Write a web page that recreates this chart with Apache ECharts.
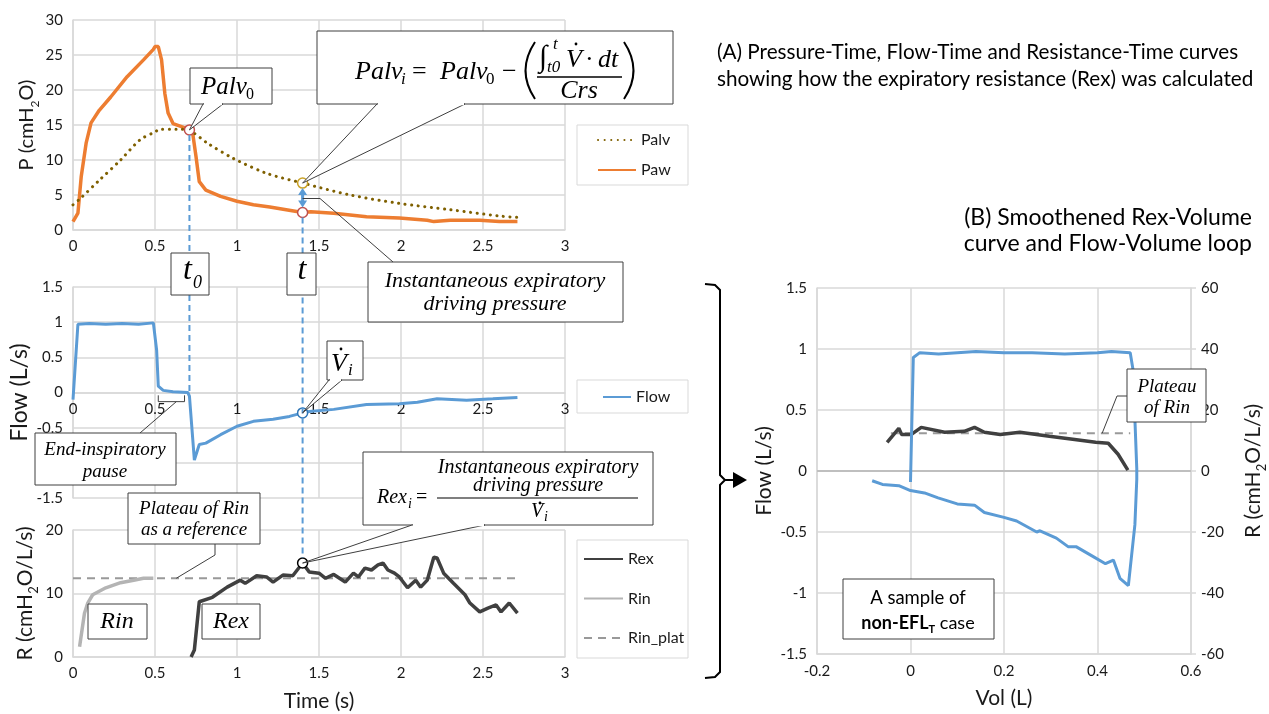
<!DOCTYPE html>
<html>
<head>
<meta charset="utf-8">
<script src="https://cdn.jsdelivr.net/npm/echarts@6/dist/echarts.min.js"></script>
<style>
  html, body { margin: 0; padding: 0; background: #fff; }
  #chart { width: 1269px; height: 714px; }
</style>
</head>
<body>
<div id="chart"></div>
<script>
// ---- data ----
// (A) pressure-time
const pawTime = [0, 0.03, 0.05, 0.08, 0.11, 0.16, 0.23, 0.33, 0.43, 0.49, 0.5, 0.52, 0.54, 0.56, 0.58, 0.61, 0.67, 0.71, 0.73, 0.75, 0.77, 0.81, 0.9, 1.0, 1.1, 1.2, 1.3, 1.4, 1.45, 1.59, 1.79, 1.99, 2.16, 2.2, 2.3, 2.48, 2.6, 2.71]
const pawValues = [1.2, 2.4, 7.6, 12.4, 15.3, 17.1, 19.0, 21.9, 24.3, 25.8, 26.2, 26.2, 24.3, 19.5, 16.7, 15.2, 14.7, 14.3, 13.8, 10.5, 6.9, 5.7, 4.8, 4.1, 3.6, 3.3, 2.9, 2.5, 2.6, 2.4, 1.9, 1.7, 1.4, 1.2, 1.4, 1.4, 1.2, 1.2]
const palvTime = [0, 0.04, 0.16, 0.29, 0.41, 0.5, 0.53, 0.63, 0.71, 0.82, 0.98, 1.18, 1.4, 1.69, 1.99, 2.3, 2.6, 2.71]
const palvValues = [3.6, 4.4, 7.1, 10.0, 12.9, 14.0, 14.4, 14.4, 14.2, 12.4, 10.2, 8.1, 6.7, 5.0, 3.8, 2.9, 2.0, 1.8]

// flow-time
const flowTime = [0, 0.03, 0.1, 0.2, 0.3, 0.4, 0.49, 0.51, 0.52, 0.55, 0.61, 0.7, 0.71, 0.74, 0.77, 0.81, 0.9, 1.0, 1.1, 1.22, 1.32, 1.4, 1.44, 1.59, 1.79, 1.99, 2.1, 2.22, 2.4, 2.56, 2.71]
const flowValues = [-0.1, 0.97, 0.98, 0.97, 0.98, 0.97, 0.99, 0.6, 0.09, 0.03, 0.01, 0.0, -0.05, -0.96, -0.74, -0.72, -0.6, -0.48, -0.41, -0.38, -0.34, -0.29, -0.27, -0.24, -0.17, -0.16, -0.14, -0.09, -0.11, -0.09, -0.07]

// resistance-time
const rinTime = [0.04, 0.07, 0.09, 0.12, 0.2, 0.29, 0.37, 0.43, 0.49]
const rinValues = [1.6, 6.9, 8.5, 9.8, 10.9, 11.7, 12.1, 12.4, 12.4]
const rexTime = [0.72, 0.74, 0.77, 0.85, 0.94, 1.02, 1.05, 1.12, 1.18, 1.22, 1.28, 1.34, 1.4, 1.44, 1.5, 1.54, 1.59, 1.66, 1.71, 1.74, 1.78, 1.82, 1.86, 1.89, 1.92, 1.96, 1.99, 2.04, 2.09, 2.12, 2.16, 2.2, 2.22, 2.26, 2.32, 2.39, 2.42, 2.48, 2.53, 2.58, 2.61, 2.66, 2.71]
const rexValues = [0, 1.1, 8.7, 9.4, 11.0, 12.1, 11.6, 12.8, 12.6, 11.8, 12.9, 12.8, 14.8, 13.4, 13.2, 12.4, 13.0, 11.8, 13.2, 12.6, 14.0, 13.7, 14.5, 14.8, 13.7, 13.2, 12.6, 10.9, 12.1, 11.0, 12.1, 15.7, 15.6, 13.2, 11.6, 9.8, 8.5, 7.1, 7.7, 8.2, 7.1, 8.5, 6.9]
const rinPlatTime = [0, 2.71]
const rinPlatValue = 12.4

// (B) flow-volume loop and Rex-volume
const loopVol = [0, 0.006, 0.02, 0.06, 0.1, 0.14, 0.2, 0.26, 0.33, 0.4, 0.43, 0.47, 0.476, 0.484, 0.484, 0.48, 0.466, 0.448, 0.434, 0.417, 0.39, 0.354, 0.337, 0.312, 0.277, 0.27, 0.227, 0.2, 0.158, 0.137, 0.1, 0.059, 0.03, 0, -0.025, -0.06, -0.082]
const loopFlow = [-0.09, 0.93, 0.97, 0.96, 0.97, 0.98, 0.97, 0.97, 0.96, 0.97, 0.98, 0.97, 0.83, 0.02, -0.07, -0.44, -0.94, -0.88, -0.73, -0.76, -0.7, -0.62, -0.62, -0.55, -0.49, -0.5, -0.41, -0.38, -0.34, -0.28, -0.27, -0.22, -0.18, -0.16, -0.12, -0.11, -0.08]
const rexVol = [-0.05, -0.025, -0.019, 0.002, 0.023, 0.073, 0.115, 0.137, 0.158, 0.192, 0.234, 0.297, 0.347, 0.396, 0.423, 0.444, 0.465]
const rexVolValues = [9.4, 14.0, 12.0, 12.0, 14.3, 12.7, 13.0, 14.3, 12.7, 12.0, 12.7, 11.4, 10.4, 9.4, 9.1, 5.5, 0.3]
const rinPlatVol = [-0.042, 0.47]

// highlighted points
const palv0Point = [0.71, 14.3]
const palvIPoint = [1.4, 6.7]
const pawIPoint = [1.4, 2.5]
const flowIPoint = [1.4, -0.29]
const rexIPoint = [1.4, 14.8]

const SANS = 'Lato'
const SERIF = '"Liberation Serif"'
const GRID = '#d9d9d9'
const BLUE = '#5B9BD5'

const pair = (xs, ys) => xs.map((x, i) => [x, ys[i]])

let chart = echarts.init(document.getElementById('chart'))

const labelStyle = { color: '#1a1a1a', fontFamily: SANS, fontSize: 15 }
const subRich = (size) => ({
  a: { fontFamily: SANS, fontSize: size, color: '#1a1a1a', lineHeight: size + 8, verticalAlign: 'middle' },
  b: { fontFamily: SANS, fontSize: Math.round(size * 0.62), color: '#1a1a1a', lineHeight: 12, verticalAlign: 'bottom' }
})

const flowGrid = { left: 73, width: 492, top: 287, height: 211 }
const flowMin = -1.5
const flowMax = 1.5

function timeAxis (gridIndex) {
  return {
    type: 'value', gridIndex: gridIndex, min: 0, max: 3, interval: 0.5,
    axisLine: { onZero: false, lineStyle: { color: GRID, width: 1.5 } },
    axisTick: { show: false },
    splitLine: { lineStyle: { color: GRID, width: 1.5 } },
    axisLabel: Object.assign({ margin: 9 }, labelStyle)
  }
}

function valueAxis (gridIndex, min, max, interval) {
  return {
    type: 'value', gridIndex: gridIndex, min: min, max: max, interval: interval,
    axisLine: { show: true, onZero: false, lineStyle: { color: GRID, width: 1.5 } },
    axisTick: { show: false },
    splitLine: { lineStyle: { color: GRID, width: 1.5 } },
    axisLabel: Object.assign({ margin: 10 }, labelStyle),
    nameLocation: 'middle',
    nameRotate: 90
  }
}

// flow-time x axis sits on the zero line of the flow axis
let xTime1 = timeAxis(1)
xTime1.offset = -(0 - flowMin) / (flowMax - flowMin) * flowGrid.height

let xTime2 = timeAxis(2)
xTime2.name = 'Time (s)'
xTime2.nameLocation = 'middle'
xTime2.nameGap = 34
xTime2.nameTextStyle = { fontFamily: SANS, fontSize: 21, color: '#1a1a1a' }

let yP = valueAxis(0, 0, 30, 5)
yP.name = '{a|P (cmH}{b|2}{a|O)}'
yP.nameGap = 32
yP.nameTextStyle = { rich: subRich(20) }

let yFlow = valueAxis(1, flowMin, flowMax, 0.5)
yFlow.name = 'Flow (L/s)'
yFlow.nameGap = 42
yFlow.nameTextStyle = { fontFamily: SANS, fontSize: 23, color: '#1a1a1a' }

let yR = valueAxis(2, 0, 20, 10)
yR.name = '{a|R (cmH}{b|2}{a|O/L/s)}'
yR.nameGap = 33
yR.nameTextStyle = { rich: subRich(21) }

let xVol = {
  type: 'value', gridIndex: 3, min: -0.2, max: 0.6, interval: 0.2,
  axisLine: { onZero: false, lineStyle: { color: GRID, width: 1.5 } },
  axisTick: { show: false },
  splitLine: { lineStyle: { color: GRID, width: 1.5 } },
  axisLabel: Object.assign({ margin: 10 }, labelStyle),
  name: 'Vol (L)', nameLocation: 'middle', nameGap: 34,
  nameTextStyle: { fontFamily: SANS, fontSize: 21, color: '#1a1a1a' }
}

let yFlowB = valueAxis(3, -1.5, 1.5, 0.5)
yFlowB.name = 'Flow (L/s)'
yFlowB.nameGap = 42
yFlowB.nameTextStyle = { fontFamily: SANS, fontSize: 21, color: '#1a1a1a' }

let yRB = valueAxis(3, -60, 60, 20)
yRB.position = 'right'
yRB.splitLine = { show: false }
yRB.axisTick = { show: true, length: 5, lineStyle: { color: GRID, width: 1.5 } }
yRB.name = '{a|R (cmH}{b|2}{a|O/L/s)}'
yRB.nameGap = 48
yRB.nameTextStyle = { rich: subRich(21) }

const legendBase = {
  orient: 'vertical', padding: 0, itemHeight: 12,
  itemStyle: { opacity: 0 },
  textStyle: { fontFamily: SANS, fontSize: 16, color: '#1a1a1a', lineHeight: 20 },
  selectedMode: false
}

const markerSeries = (name, x, y, pts, color) => ({
  name: name, type: 'scatter', xAxisIndex: x, yAxisIndex: y, data: pts,
  symbol: 'circle', symbolSize: 10, z: 6,
  itemStyle: { color: '#fff', opacity: 1, borderColor: color, borderWidth: 1.5 }
})

let option = {
  animation: false,
  backgroundColor: '#fff',
  grid: [
    { left: 73, width: 492, top: 20, height: 210 },
    flowGrid,
    { left: 73, width: 492, top: 530, height: 127 },
    { left: 817, width: 380, top: 288, height: 369 }
  ],
  xAxis: [timeAxis(0), xTime1, xTime2, xVol],
  yAxis: [yP, yFlow, yR, yFlowB, yRB],
  legend: [
    Object.assign({ left: 597, top: 130, itemWidth: 38, itemGap: 10, data: ['Palv', 'Paw'] }, legendBase),
    Object.assign({ left: 602, top: 387, itemWidth: 28, itemGap: 10, data: ['Flow'] }, legendBase),
    Object.assign({ left: 583, top: 549, itemWidth: 39, itemGap: 19.5, data: ['Rex', 'Rin', 'Rin_plat'] }, legendBase)
  ],
  series: [
    {
      name: 'Paw', type: 'line', xAxisIndex: 0, yAxisIndex: 0, symbol: 'none',
      data: pair(pawTime, pawValues),
      lineStyle: { color: '#ED7D31', width: 3.5 }, itemStyle: { color: '#ED7D31' }
    },
    {
      name: 'Palv', type: 'line', xAxisIndex: 0, yAxisIndex: 0, symbol: 'none', smooth: 0.3,
      data: pair(palvTime, palvValues),
      lineStyle: { color: '#7F6000', width: 3, type: [0.1, 6.5], cap: 'round' }, itemStyle: { color: '#7F6000' }
    },
    {
      name: 'Flow', type: 'line', xAxisIndex: 1, yAxisIndex: 1, symbol: 'none',
      data: pair(flowTime, flowValues),
      lineStyle: { color: BLUE, width: 3 }, itemStyle: { color: BLUE }
    },
    {
      name: 'Rin_plat', type: 'line', xAxisIndex: 2, yAxisIndex: 2, symbol: 'none',
      data: rinPlatTime.map(t => [t, rinPlatValue]),
      lineStyle: { color: '#999', width: 2, type: [8, 6] }, itemStyle: { color: '#999' }
    },
    {
      name: 'Rin', type: 'line', xAxisIndex: 2, yAxisIndex: 2, symbol: 'none',
      data: pair(rinTime, rinValues),
      lineStyle: { color: '#b4b4b4', width: 3.5 }, itemStyle: { color: '#b4b4b4' }
    },
    {
      name: 'Rex', type: 'line', xAxisIndex: 2, yAxisIndex: 2, symbol: 'none',
      data: pair(rexTime, rexValues),
      lineStyle: { color: '#404040', width: 3.5 }, itemStyle: { color: '#404040' }
    },
    {
      name: 'Rin_plat (B)', type: 'line', xAxisIndex: 3, yAxisIndex: 4, symbol: 'none',
      data: rinPlatVol.map(v => [v, rinPlatValue]),
      lineStyle: { color: '#999', width: 2, type: [8, 6] }
    },
    {
      name: 'Rex (B)', type: 'line', xAxisIndex: 3, yAxisIndex: 4, symbol: 'none',
      data: pair(rexVol, rexVolValues),
      lineStyle: { color: '#404040', width: 3.5 }
    },
    {
      name: 'Flow (B)', type: 'line', xAxisIndex: 3, yAxisIndex: 3, symbol: 'none',
      data: pair(loopVol, loopFlow),
      lineStyle: { color: BLUE, width: 3 },
      markLine: {
        silent: true, symbol: 'none', label: { show: false }, z: 1,
        lineStyle: { color: '#bfbfbf', width: 2, type: 'solid' },
        data: [{ yAxis: 0 }]
      }
    },
    markerSeries('palv0', 0, 0, [palv0Point, pawIPoint], '#C0504D'),
    markerSeries('palvI', 0, 0, [palvIPoint], '#C9A227'),
    markerSeries('flowI', 1, 1, [flowIPoint], '#2E75B6'),
    markerSeries('rexI', 2, 2, [rexIPoint], '#000')
  ]
}

chart.setOption(option)

// ---- annotations (boxes, callouts, arrows) ----
const px = (g, pt) => chart.convertToPixel({ gridIndex: g }, pt)
const pxB = (pt) => chart.convertToPixel({ xAxisIndex: 3, yAxisIndex: 4 }, pt)
const INK = '#3f3f3f'

function boxEl (x, y, w, h, z) {
  return { type: 'rect', z: z || 20, shape: { x: x, y: y, width: w, height: h }, style: { fill: '#fff', stroke: INK, lineWidth: 1 } }
}
function wedge (x1, x2, y, tip) {
  return [
    { type: 'polygon', z: 21, shape: { points: [[x1, y], tip, [x2, y]] }, style: { fill: '#fff', stroke: INK, lineWidth: 1 } },
    { type: 'line', z: 22, shape: { x1: x1 + 1, y1: y, x2: x2 - 1, y2: y }, style: { stroke: '#fff', lineWidth: 2.5 } }
  ]
}
function polyline (pts, z, color, width) {
  return { type: 'polyline', z: z || 21, shape: { points: pts }, style: { stroke: color || INK, lineWidth: width || 1, fill: null } }
}
function txt (x, y, s, font, align, z) {
  return { type: 'text', z: z || 23, style: { x: x, y: y, text: s, font: font, fill: '#000', align: align || 'left', verticalAlign: 'middle' } }
}
function paren (x1, y1, x2, y2, cx) {
  return { type: 'bezierCurve', z: 23, shape: { x1: x1, y1: y1, x2: x2, y2: y2, cpx1: cx, cpy1: (y1 + y2) / 2 }, style: { stroke: '#000', lineWidth: 2, fill: null } }
}
const it = (size) => 'italic ' + size + 'px ' + SERIF
const up = (size) => size + 'px ' + SERIF
const dot = (x, y) => ({ type: 'circle', z: 23, shape: { cx: x, cy: y, r: 1.4 }, style: { fill: '#000' } })

const pPalv0 = px(0, palv0Point)
const pPalvI = px(0, palvIPoint)
const pPawI = px(0, pawIPoint)
const pFlowI = px(1, flowIPoint)
const pRexI = px(2, rexIPoint)
const pFlow0 = px(1, [palv0Point[0], 0])
const pDrive = px(0, [1.4, 4.5])

let g = []

// blue dashed guides and double arrow
g.push({ type: 'line', z: 15, shape: { x1: pPalv0[0], y1: pPalv0[1] + 5, x2: pFlow0[0], y2: pFlow0[1] }, style: { stroke: BLUE, lineWidth: 2, lineDash: [6, 4] } })
g.push({ type: 'line', z: 15, shape: { x1: pPawI[0], y1: pPawI[1] + 5, x2: pRexI[0], y2: pRexI[1] - 5 }, style: { stroke: BLUE, lineWidth: 2, lineDash: [6, 4] } })
g.push({ type: 'line', z: 15, shape: { x1: pPalvI[0], y1: pPalvI[1] + 10, x2: pPawI[0], y2: pPawI[1] - 10 }, style: { stroke: BLUE, lineWidth: 3 } })
g.push({ type: 'polygon', z: 15, shape: { points: [[pPalvI[0] - 4.5, pPalvI[1] + 12], [pPalvI[0], pPalvI[1] + 5], [pPalvI[0] + 4.5, pPalvI[1] + 12]] }, style: { fill: BLUE } })
g.push({ type: 'polygon', z: 15, shape: { points: [[pPawI[0] - 4.5, pPawI[1] - 12], [pPawI[0], pPawI[1] - 5], [pPawI[0] + 4.5, pPawI[1] - 12]] }, style: { fill: BLUE } })

// Palv0 box
g.push(boxEl(190, 68, 82, 36))
g.push.apply(g, wedge(203, 223, 104, pPalv0))
g.push(txt(201, 87, 'Palv', it(25)))
g.push(txt(246, 95, '0', up(16)))

// Palv_i formula box
g.push(boxEl(317, 31, 356, 73))
g.push.apply(g, wedge(377, 465, 104, pPalvI))
g.push(txt(355, 72, 'Palv', it(26)))
g.push(txt(401, 80, 'i', it(17)))
g.push(txt(412, 72, '=', up(26)))
g.push(txt(440, 72, 'Palv', it(26)))
g.push(txt(486, 80, '0', up(17)))
g.push(txt(502, 72, '\u2212', up(26)))
g.push(paren(535, 42, 535, 99, 516))
g.push(txt(539, 58, '\u222B', it(30)))
g.push(txt(553, 45, 't', it(17)))
g.push(txt(547, 68, 't0', it(17)))
g.push(txt(566, 60, 'V', it(26)))
g.push(dot(576, 44))
g.push(txt(585, 60, '\u00B7', up(26)))
g.push(txt(598, 60, 'dt', it(26)))
g.push({ type: 'line', z: 23, shape: { x1: 537, y1: 77, x2: 622, y2: 77 }, style: { stroke: '#000', lineWidth: 1.5 } })
g.push(txt(579, 91, 'Crs', it(26), 'center'))
g.push(paren(624, 42, 624, 99, 643))

// t0 and t boxes
g.push(boxEl(171, 253, 38, 42))
g.push(txt(183, 271, 't', it(32)))
g.push(txt(193, 283, '0', it(18)))
g.push(boxEl(287, 253, 29, 42))
g.push(txt(302, 271, 't', it(32), 'center'))

// instantaneous expiratory driving pressure
g.push(boxEl(368, 262, 255, 60))
g.push(polyline([pDrive, [320, pDrive[1]], [393, 262]]))
g.push(txt(495, 281, 'Instantaneous expiratory', it(22), 'center'))
g.push(txt(495, 304, 'driving pressure', it(22), 'center'))

// V_i box
g.push(boxEl(327, 341, 36, 39))
g.push.apply(g, wedge(329, 342, 380, pFlowI))
g.push(txt(331, 364, 'V', it(26)))
g.push(dot(341, 349))
g.push(txt(348, 371, 'i', it(17)))

// end-inspiratory pause
const pBrL = px(1, [0.52, -0.04])
const pBrR = px(1, [0.68, -0.04])
const pBrM = px(1, [0.63, -0.13])
g.push(polyline([pBrL, [pBrL[0], pBrM[1]], [pBrR[0], pBrM[1]], pBrR], 16))
g.push(polyline([pBrM, [140, 433]], 16))
g.push(boxEl(35, 433, 141, 52))
g.push(txt(105, 450, 'End-inspiratory', it(19), 'center'))
g.push(txt(105, 472, 'pause', it(19), 'center'))

// plateau of Rin (A)
const pPlat = px(2, [0.63, rinPlatValue])
g.push(polyline([[215, 544], [215, 555], pPlat], 16))
g.push(boxEl(128, 493, 132, 51))
g.push(txt(194, 509, 'Plateau of Rin', it(19), 'center'))
g.push(txt(194, 530, 'as a reference', it(19), 'center'))

// Rin / Rex labels
g.push(boxEl(88, 604, 59, 35))
g.push(txt(117, 622, 'Rin', it(24), 'center'))
g.push(boxEl(202, 604, 58, 35))
g.push(txt(231, 622, 'Rex', it(24), 'center'))

// Rex_i formula
g.push(boxEl(363, 452, 290, 73))
g.push.apply(g, wedge(412, 485, 525, pRexI))
g.push(txt(377, 498, 'Rex', it(20)))
g.push(txt(408, 504, 'i', it(14)))
g.push(txt(416, 498, '=', up(20)))
g.push(txt(538, 468, 'Instantaneous expiratory', it(20), 'center'))
g.push(txt(538, 486, 'driving pressure', it(20), 'center'))
g.push({ type: 'line', z: 23, shape: { x1: 437, y1: 498, x2: 638, y2: 498 }, style: { stroke: '#000', lineWidth: 1.2 } })
g.push(txt(531, 512, 'V', it(20)))
g.push(dot(540, 503))
g.push(txt(544, 517, 'i', it(14)))

// plateau of Rin (B)
const pPlatB = pxB([0.41, rinPlatValue])
g.push(polyline([[1127, 396], [1117, 396], pPlatB], 16))
g.push(boxEl(1127, 369, 79, 53))
g.push(txt(1167, 387, 'Plateau', it(19), 'center'))
g.push(txt(1167, 408, 'of Rin', it(19), 'center'))

// sample box
g.push(boxEl(843, 579, 151, 60))
g.push(txt(918, 598, 'A sample of', '18.5px ' + SANS, 'center'))
g.push({
  type: 'text', z: 23,
  style: {
    x: 918, y: 623, align: 'center', verticalAlign: 'middle',
    text: '{b|non-EFL}{s|T}{n| case}',
    rich: {
      b: { fontFamily: SANS, fontSize: 18, fontWeight: 'bold', fill: '#000', lineHeight: 24, verticalAlign: 'middle' },
      s: { fontFamily: SANS, fontSize: 11, fontWeight: 'bold', fill: '#000', lineHeight: 11, verticalAlign: 'bottom' },
      n: { fontFamily: SANS, fontSize: 18, fill: '#000', lineHeight: 24, verticalAlign: 'middle' }
    }
  }
})

// legend frames
g.push({ type: 'rect', z: 1, shape: { x: 577, y: 125, width: 111, height: 60 }, style: { fill: '#fff', stroke: GRID, lineWidth: 1 } })
g.push({ type: 'rect', z: 1, shape: { x: 577, y: 380, width: 111, height: 33 }, style: { fill: '#fff', stroke: GRID, lineWidth: 1 } })
g.push({ type: 'rect', z: 1, shape: { x: 577, y: 540, width: 111, height: 118 }, style: { fill: '#fff', stroke: GRID, lineWidth: 1 } })

// brace and arrow between panels
g.push(polyline([[705, 284], [715, 285], [720, 290], [720, 475], [725, 480], [720, 485], [720, 672], [715, 677], [705, 678]], 10, '#000', 2))
g.push({ type: 'line', z: 10, shape: { x1: 724, y1: 480, x2: 736, y2: 480 }, style: { stroke: '#000', lineWidth: 2 } })
g.push({ type: 'polygon', z: 10, shape: { points: [[733, 472], [747, 480], [733, 488]] }, style: { fill: '#000' } })

// panel captions
g.push(txt(717, 52, '(A) Pressure-Time, Flow-Time and Resistance-Time curves', '20.7px ' + SANS))
g.push(txt(717, 79, 'showing how the expiratory resistance (Rex) was calculated', '20.7px ' + SANS))
g.push(txt(1252, 218, '(B) Smoothened Rex-Volume', '23px ' + SANS, 'right'))
g.push(txt(1252, 244, 'curve and Flow-Volume loop', '23px ' + SANS, 'right'))

chart.setOption({ graphic: g })
</script>
</body>
</html>
